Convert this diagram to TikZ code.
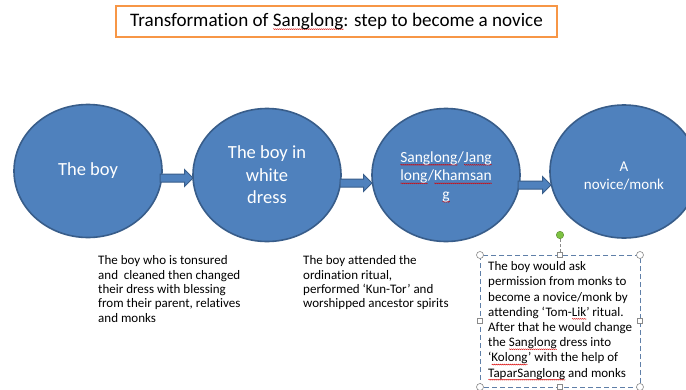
\documentclass[tikz,border=0pt]{standalone}
\usepackage{fontspec}
\setmainfont{Carlito}[Ligatures=NoCommon]
\usetikzlibrary{shapes.geometric,calc,decorations.pathmorphing}
\definecolor{bluefill}{HTML}{4F81BD}
\definecolor{blueline}{HTML}{385D8A}
\definecolor{orangeline}{HTML}{F79646}
\definecolor{selline}{HTML}{5F7FA8}
\definecolor{handle}{HTML}{8A8A8A}
\definecolor{greenh}{HTML}{7DC242}
\newlength\sqlen
\newcommand\sqz[1]{\settowidth\sqlen{#1}\rlap{\raisebox{-2.6pt}{\tikz[baseline=0pt]\draw[red!85!black,line width=0.4pt,decorate,decoration={snake,amplitude=0.5pt,segment length=2pt}] (0pt,0pt) -- (\sqlen,0pt);}}#1}
\tikzset{
  stage/.style={ellipse, fill=bluefill, draw=blueline, line width=1.6pt,
    minimum width=148pt, minimum height=133pt, inner sep=0pt, text=white, align=center},
  stagetext/.style={text=white, align=center, inner sep=0pt},
  blockarr/.style={fill=bluefill, draw=blueline, line width=1pt},
  desc/.style={anchor=north west, inner sep=0pt, align=left, text=black,
    font=\fontsize{13}{14.4}\selectfont},
  hcirc/.style={circle, draw=handle, fill=white, line width=0.6pt, minimum size=7pt, inner sep=0pt},
  hsq/.style={rectangle, draw=handle, fill=white, line width=0.6pt, minimum size=5.5pt, inner sep=0pt},
}
\begin{document}
\begin{tikzpicture}[x=1pt,y=-1pt]
\useasboundingbox (0,0) rectangle (686,389);
\clip (0,0) rectangle (686,389);
\fill[white] (0,0) rectangle (686,389);
% title
\node[draw=orangeline, line width=2.2pt, minimum width=441pt, minimum height=31pt, inner sep=0pt,
  font=\fontsize{19.1}{22}\selectfont] (title) at (336.5,21.5)
  {Transformation of \sqz{Sanglong}: step to become a novice};
% stages
\node[stage, font=\fontsize{18.5}{22.5}\selectfont] (e1) at (88,171) {The boy};
\node[stage, font=\fontsize{18.5}{22.5}\selectfont] (e2) at (267,175) {The boy in\\white\\dress};
\node[stage] (e3) at (446,175) {};
\node[stagetext, font=\fontsize{15.5}{18.5}\selectfont] (e3t) at ($(e3.center)+(0,2)$) {\sqz{Sanglong}/\sqz{Jang}\\\sqz{long}/\sqz{Khamsan}\\\sqz{g}};
\node[stage] (e4) at (624,171.5) {};
\node[stagetext, font=\fontsize{15}{18}\selectfont] (e4t) at ($(e4.center)+(0,5)$) {A\\novice/monk};
% block arrows
\coordinate (a1s) at (160,178); \coordinate (a1e) at (193,178);
\coordinate (a2s) at (340,183); \coordinate (a2e) at (372,183);
\coordinate (a3s) at (518,185); \coordinate (a3e) at (551,185);
\foreach \s/\e in {a1s/a1e, a2s/a2e, a3s/a3e}{
  \draw[blockarr] ($(\s)+(0,-4)$) -- ($(\e)+(-8.5,-4)$) -- ($(\e)+(-8.5,-8.5)$) -- (\e)
     -- ($(\e)+(-8.5,8.5)$) -- ($(\e)+(-8.5,4)$) -- ($(\s)+(0,4)$) -- cycle;
}
% descriptions
\node[desc] (d1) at (98,255.5) {The boy who is tonsured\\and\ \ cleaned then changed\\their dress with blessing\\from their parent, relatives\\and monks};
\node[desc] (d2) at (303,255.5) {The boy attended the\\ordination ritual,\\performed ‘Kun-Tor’ and\\worshipped ancestor spirits};
% selected text box
\draw[selline, dashed, dash pattern=on 5pt off 3pt, line width=0.8pt] (480,255) rectangle (640,387);
\draw[handle, dashed, dash pattern=on 3pt off 2pt, line width=0.6pt] (560,239) -- (560,255);
\node[desc, font=\fontsize{13}{15.2}\selectfont] (d3) at (488,261.5) {The boy would ask\\permission from monks to\\become a novice/monk\ by\\attending ‘Tom-\sqz{Lik}’ ritual.\\After that he would change\\the \sqz{Sanglong} dress into\\‘\sqz{Kolong}’ with the help of\\\sqz{TaparSanglong} and monks};
\node[circle, fill=greenh, draw=greenh!70!black, line width=0.4pt, minimum size=7.5pt, inner sep=0pt] (rot) at (560,235) {};
\node[hcirc] (h1) at (480,255) {};
\node[hcirc] (h2) at (640,255) {};
\node[hcirc] (h3) at (480,387) {};
\node[hcirc] (h4) at (640,387) {};
\node[hsq] (h5) at (560,255) {};
\node[hsq] (h6) at (480,321) {};
\node[hsq] (h7) at (640,321) {};
\node[hsq] (h8) at (560,387) {};
\end{tikzpicture}
\end{document}
